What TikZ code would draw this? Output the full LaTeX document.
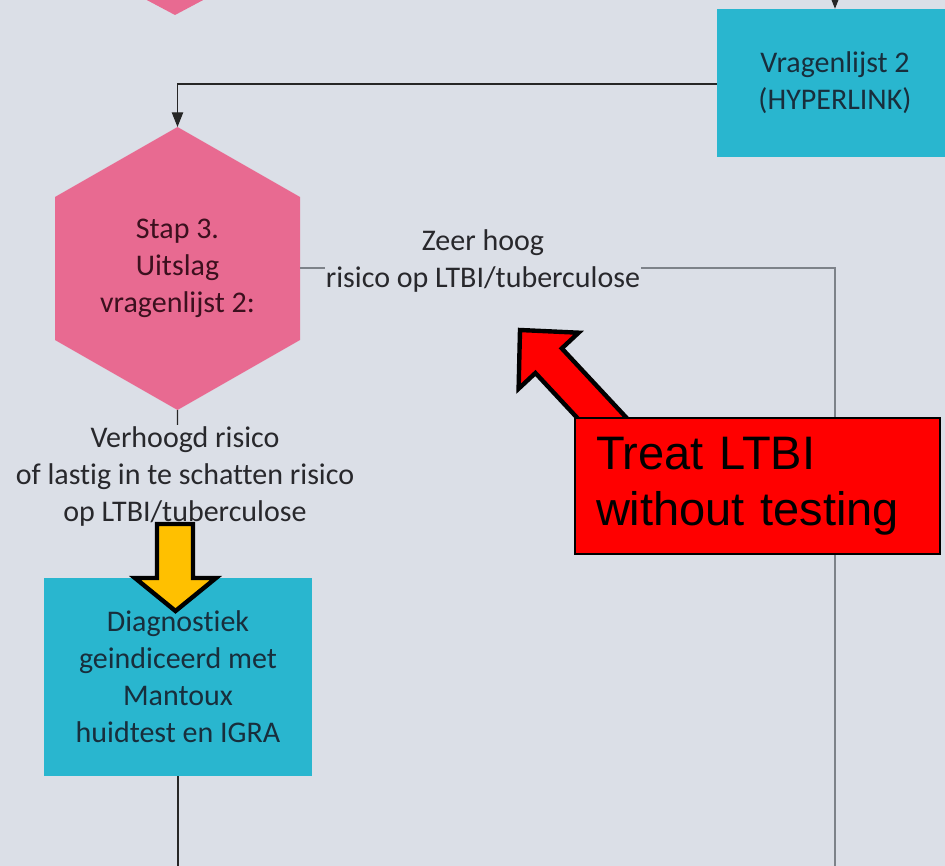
\documentclass[tikz,border=0pt]{standalone}
\usepackage{fontspec}
\setmainfont{Carlito}[Ligatures=NoCommon]
\newfontfamily\arialfont{Liberation Sans}
\usetikzlibrary{arrows.meta}

\definecolor{bgc}{RGB}{219,223,231}
\definecolor{pinkc}{RGB}{232,106,145}
\definecolor{cyanc}{RGB}{41,182,207}
\definecolor{boxtxt}{RGB}{24,46,60}
\definecolor{hextxt}{RGB}{60,16,30}
\definecolor{lbltxt}{RGB}{40,40,44}
\definecolor{amber}{RGB}{255,192,0}
\definecolor{notered}{RGB}{255,0,0}
\definecolor{greyline}{RGB}{125,130,137}

\tikzset{
  flowfont/.style={font=\fontsize{22.5pt}{27.75pt}\selectfont},
  flowbox/.style={rectangle, fill=cyanc, text=boxtxt, flowfont, align=center, inner sep=0pt},
  hextext/.style={text=hextxt, flowfont, align=center, inner sep=0pt},
  lbl/.style={fill=bgc, text=lbltxt, flowfont, align=center, inner sep=1pt},
  conn/.style={line width=0.9pt, draw=black!85},
  arr/.style={conn, -{Triangle[length=11pt,width=8.5pt]}},
  connR/.style={line width=1.5pt, draw=greyline},
  blockarrow/.style={line width=3.3pt, draw=black, line join=miter},
  notebox/.style={rectangle, draw=black, line width=1.5pt, fill=notered, text=black,
    font=\arialfont\fontsize{35.25pt}{42pt}\selectfont, align=left,
    minimum width=273.75pt, minimum height=102pt, text width=242.25pt, inner xsep=15.75pt},
}

\begin{document}
\begin{tikzpicture}[x=0.75pt,y=-0.75pt]
\useasboundingbox (0,0) rectangle (945,866);
\fill[bgc] (0,0) rectangle (945,866);
\clip (0,0) rectangle (945,866);

% lower tip of the preceding step
\fill[pinkc] (143,-2) -- (207,-2) -- (175,15) -- cycle;

% questionnaire box, cut by the right edge
\node[flowbox, minimum width=177pt, minimum height=111pt] (vl2) at (835,83)
  {Vragenlijst 2\\(HYPERLINK)};
\coordinate (vl2in) at (835,-12);
\draw[arr] (vl2in) -- (vl2.north);

% step 3 hexagon
\coordinate (s3top) at (177.5,127);
\coordinate (s3right) at (300,268);
\coordinate (s3bot) at (177.5,410);
\fill[pinkc] (s3top) -- (300,197) -- (300,340) -- (s3bot) -- (55,340) -- (55,197) -- cycle;
\node[hextext] (s3) at (177.5,268.5) {Stap 3.\\Uitslag\\vragenlijst 2:};

% questionnaire -> step 3
\draw[arr] (vl2.west |- 0,84) -| (s3top);

% diagnostics box
\node[flowbox, minimum width=201pt, minimum height=148.5pt] (diag) at (178,677)
  {Diagnostiek\\geindiceerd met\\Mantoux\\huidtest en IGRA};

% very high risk branch
\coordinate (rdown) at (835,880);
\draw[connR] (s3right) -- (835,268) -- (rdown);
\node[lbl] (hoog) at (483,261) {Zeer hoog\\risico op LTBI/tuberculose};

% raised risk branch
\draw[arr] (s3bot) -- (diag.north);
\draw[conn] (diag.south) -- (178,880);
\node[lbl] (verh) at (185,476) {Verhoogd risico\\of lastig in te schatten risico\\op LTBI/tuberculose};

% red callout arrow pointing at the high risk label
\draw[blockarrow, fill=notered]
  (520,330) -- (578.6,332.7) -- (561.8,348.4) -- (643.6,436.2)
  -- (617.2,460.8) -- (535.4,373) -- (518.6,388.7) -- cycle;
\node[notebox, anchor=north west] (note) at (574,417) {Treat LTBI\\without testing};

% amber arrow pointing at the diagnostics box
\draw[blockarrow, fill=amber]
  (157,524) -- (193,524) -- (193,578) -- (216,578) -- (175.5,611)
  -- (135,578) -- (157,578) -- cycle;
\end{tikzpicture}
\end{document}
